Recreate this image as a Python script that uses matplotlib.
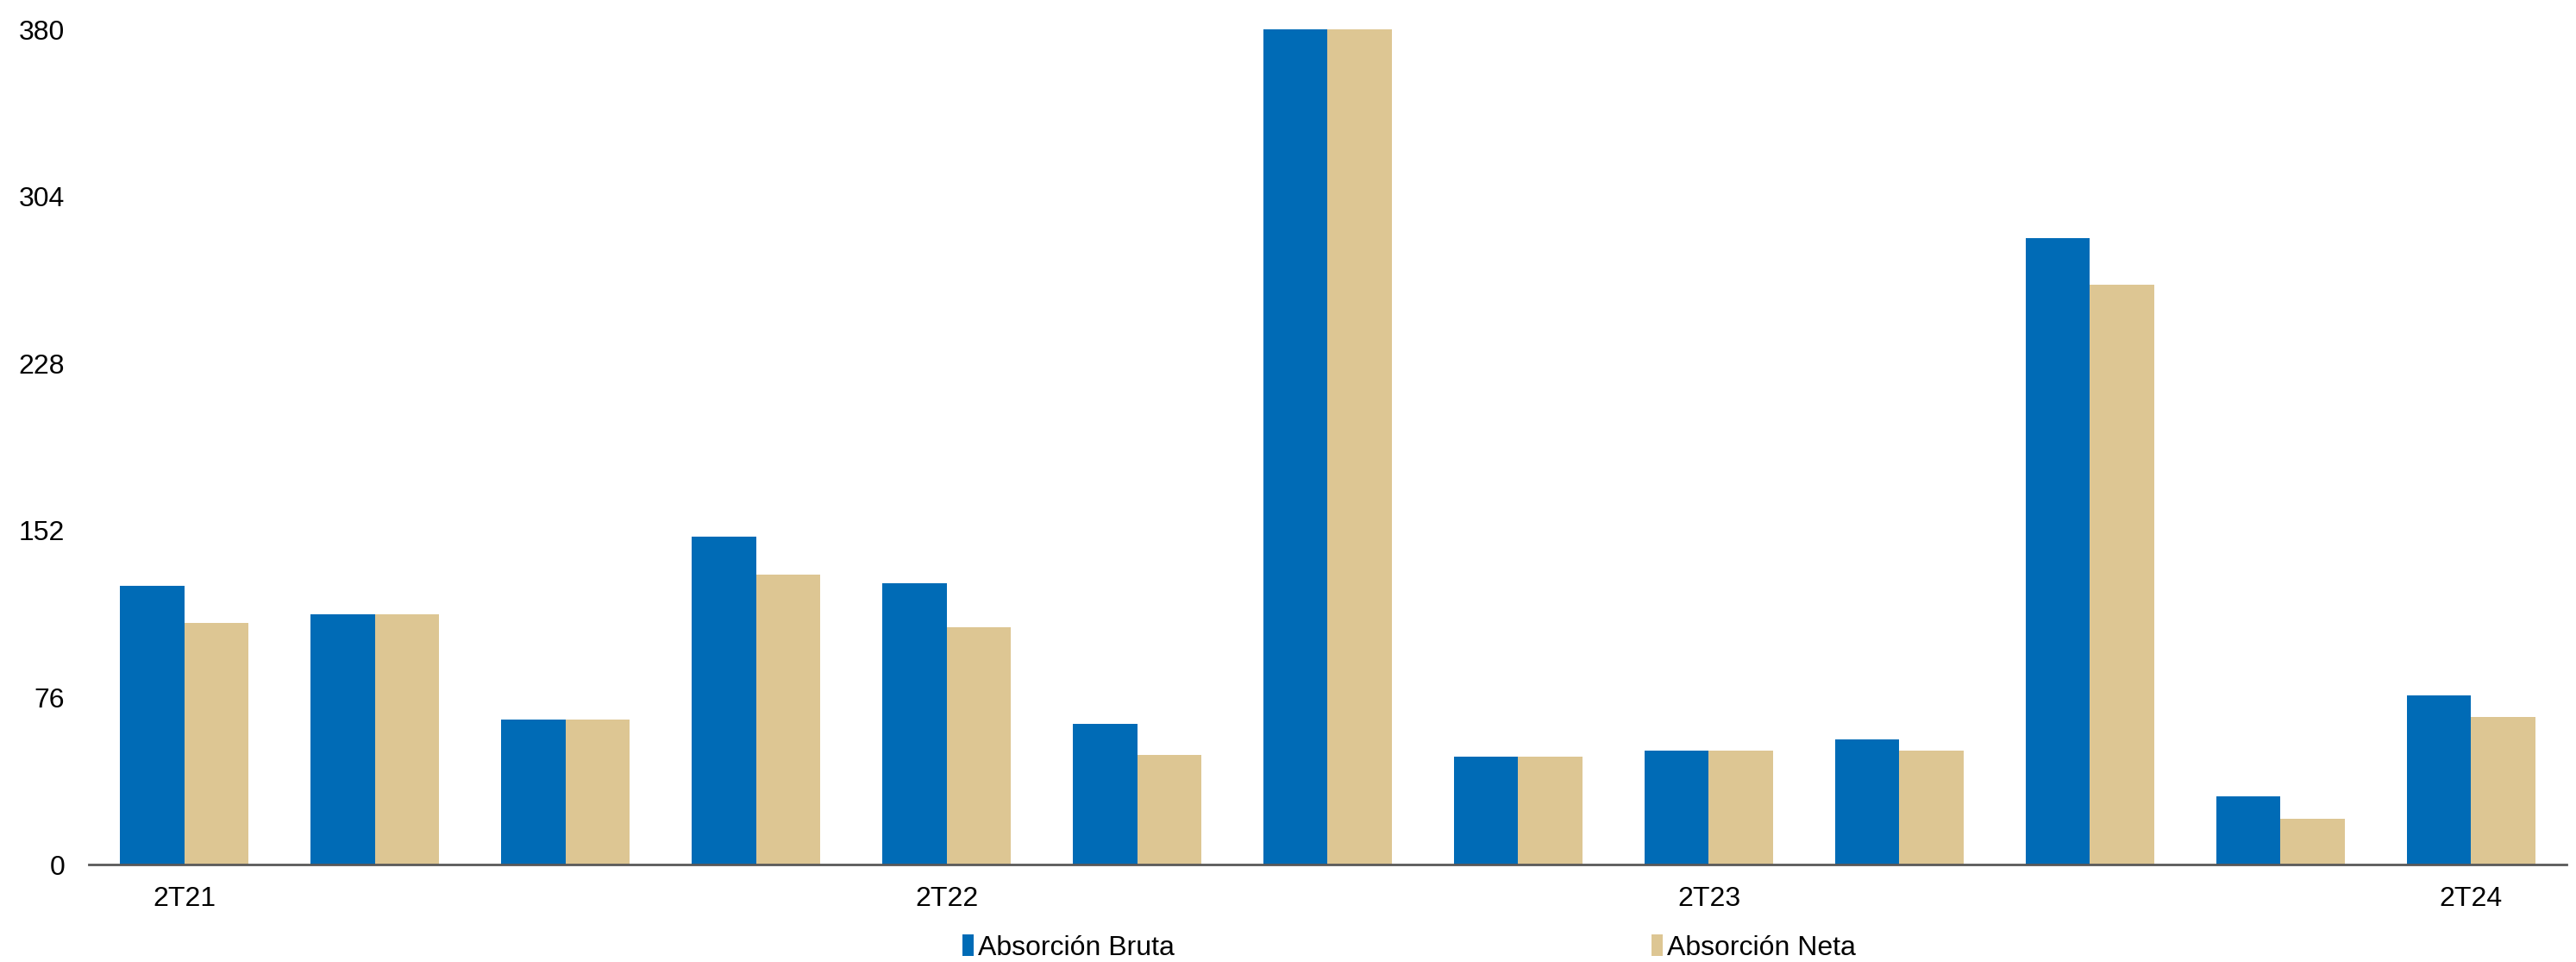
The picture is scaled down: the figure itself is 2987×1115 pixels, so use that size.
import matplotlib
matplotlib.use("Agg")
import matplotlib.pyplot as plt
import numpy as np

plt.rcParams['font.family'] = ['Liberation Sans', 'DejaVu Sans']

# Quarterly absorption (thousand m²)
periods = ["2T21", "3T21", "4T21", "1T22", "2T22", "3T22", "4T22",
           "1T23", "2T23", "3T23", "4T23", "1T24", "2T24"]
absorcion_bruta = [127, 114, 66, 149, 128, 64, 380, 49, 52, 57, 285, 31, 77]
absorcion_neta = [110, 114, 66, 132, 108, 50, 380, 49, 52, 52, 264, 21, 67]
shown_labels = {"2T21", "2T22", "2T23", "2T24"}
y_ticks = [0, 76, 152, 228, 304, 380]

blue = "#006BB6"
beige = "#DDC693"

fig = plt.figure(figsize=(29.87, 11.15), dpi=100)
ax = fig.add_axes([0.0345, 0.1013, 0.9618, 0.8682])

x = np.arange(len(periods))
w = 0.337
ax.bar(x - w / 2, absorcion_bruta, width=w, color=blue, label="Absorción Bruta")
ax.bar(x + w / 2, absorcion_neta, width=w, color=beige, label="Absorción Neta")

ax.set_xlim(-0.5, len(periods) - 0.5)
ax.set_ylim(0, 380)
ax.set_yticks(y_ticks)
ax.set_yticklabels([str(v) for v in y_ticks])
ax.set_xticks(x)
ax.set_xticklabels([p if p in shown_labels else "" for p in periods])
ax.tick_params(axis="y", length=0, pad=20, labelsize=23)
ax.tick_params(axis="x", length=0, pad=18, labelsize=23)

for side in ("top", "right", "left"):
    ax.spines[side].set_visible(False)
ax.spines["bottom"].set_color("#595959")
ax.spines["bottom"].set_linewidth(2)

fig.legend(loc="center", bbox_to_anchor=(0.547, 0.015), ncol=2, frameon=False,
           fontsize=23, handlelength=0.42, handleheight=0.85, handletextpad=0.15,
           columnspacing=17.3)

fig.savefig("out.png", dpi=100)
